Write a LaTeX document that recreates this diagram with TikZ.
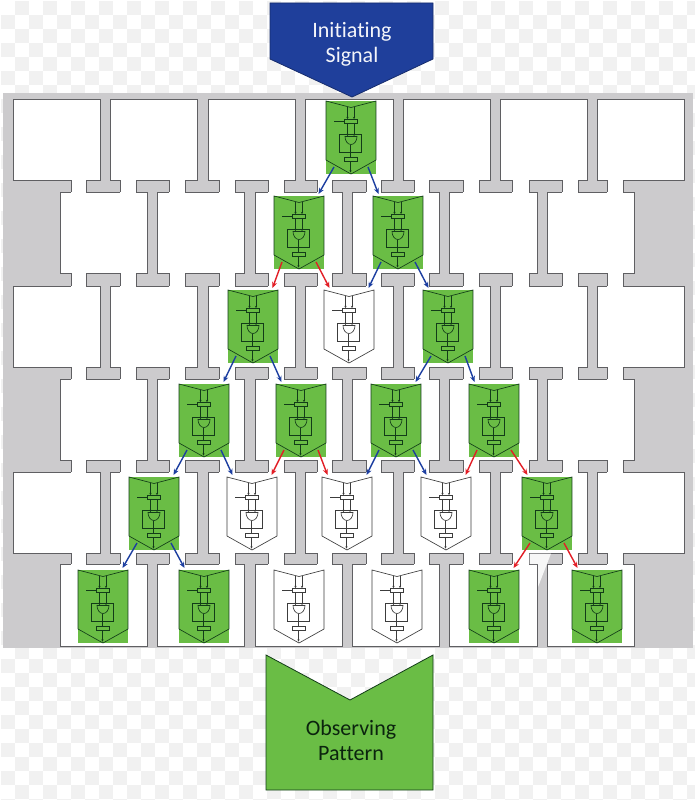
\documentclass[tikz,border=0pt]{standalone}
\usepackage{xcolor}
\usepackage{fontspec}
\setmainfont{Carlito}[Ligatures=NoCommon]
\usetikzlibrary{arrows.meta, positioning, calc}
\definecolor{wallgray}{RGB}{204,203,205}
\definecolor{walledge}{RGB}{95,95,98}
\definecolor{checkgray}{RGB}{241,241,241}
\definecolor{cellgreen}{RGB}{106,189,69}
\definecolor{wiredark}{RGB}{18,60,24}
\definecolor{wiregray}{RGB}{60,60,60}
\definecolor{signalblue}{RGB}{31,63,155}
\definecolor{arrowblue}{RGB}{28,62,160}
\definecolor{arrowred}{RGB}{226,30,38}
\tikzset{
  greencell/.style={rectangle, fill=cellgreen, minimum width=50pt, minimum height=73pt,
    inner sep=0pt, outer sep=0pt, anchor=north},
  whitecell/.style={rectangle, minimum width=50pt, minimum height=73pt,
    inner sep=0pt, outer sep=0pt, anchor=north},
  wire/.style={line width=0.65pt, line join=miter},
  tinyarrow/.style={wire, -{Stealth[length=2pt,width=2pt]}},
  bluearrow/.style={-{Stealth[length=6pt,width=5pt]}, line width=1.4pt, color=arrowblue},
  redarrow/.style={-{Stealth[length=6pt,width=5pt]}, line width=1.4pt, color=arrowred},
  room/.style={fill=white, draw=walledge, line width=0.9pt},
  bigtext/.style={align=center, font=\fontsize{22}{25}\selectfont}
}
% outline and wiring of one cell, measured from the top middle of its node
\newcommand{\cellparts}[2]{
  \begin{scope}[shift={(#1.north)}, color=#2]
    \draw[wire, fill=white, fill opacity=\cellfill] (-25,0) -- (0,6.5) -- (25,0) -- (25,59) -- (0,73) -- (-25,59) -- cycle;
    \draw[tinyarrow] (-3.5,6) -- (-3.5,18);
    \draw[tinyarrow] (3,6) -- (3,18);
    \draw[wire] (-17,20.5) -- (-7,20.5);
    \draw[wire] (-7,18) rectangle (6,22.5);
    \draw[tinyarrow] (-3.5,22.5) -- (-3.5,35);
    \draw[tinyarrow] (3,22.5) -- (3,35);
    \draw[wire] (-11.5,33) rectangle (10.5,51);
    \draw[wire] (-6,35.5) -- (6,35.5) arc[start angle=0, end angle=-180, x radius=6, y radius=-8] -- cycle;
    \draw[wire] (-0.5,43.5) -- (-0.5,56);
    \draw[wire] (-7,56) rectangle (6.5,60);
    \draw[tinyarrow] (-0.5,60) -- (-0.5,71.5);
  \end{scope}
}
\newcommand{\greenunit}[3]{
  \def\cellfill{0}
  \node[greencell] (#1) at (#2,#3) {};
  \cellparts{#1}{wiredark}
}
\newcommand{\whiteunit}[3]{
  \def\cellfill{1}
  \node[whitecell] (#1) at (#2,#3) {};
  \cellparts{#1}{wiregray}
}
% parent cell to its two children below
\newcommand{\linkcells}[4]{
  \draw[#4] ([xshift=-17pt,yshift=7pt]#1.south) -- ([xshift=-5.5pt,yshift=2pt]#2.north east);
  \draw[#4] ([xshift=17pt,yshift=7pt]#1.south) -- ([xshift=5.5pt,yshift=2pt]#3.north west);
}

\begin{document}
\begin{tikzpicture}[x=1pt, y=-1pt]
  \useasboundingbox (0,0) rectangle (695,800);

  % Checker background
  \foreach \i in {0,2,...,48} {
    \foreach \j in {0,2,...,56} {
      \fill[checkgray] ({15+14*\i},{1+14*\j}) rectangle +(14,14);
      \fill[checkgray] ({1+14*\i},{15+14*\j}) rectangle +(14,14);
    }
  }

  % Wall block
  \fill[wallgray] (3,93) rectangle (693,648);

  % Rooms
  \foreach \ytop/\ybot in {99/180, 286/367, 472/553} {
    \foreach \xl/\xr in {13/100, 110/197, 208/295, 305/393, 403/490, 500/587, 597/684} {
      \draw[room] (\xl,\ytop) rectangle (\xr,\ybot);
    }
  }
  \foreach \ytop/\ybot in {192/273, 379/460, 564/646} {
    \foreach \xl/\xr in {60/147, 157/244, 255/342, 352/439, 449/537, 547/634} {
      \draw[room] (\xl,\ytop) rectangle (\xr,\ybot);
    }
  }

  % Gaps in the walls between the rows
  \foreach \ytop/\ybot in {180/192, 273/286, 367/379, 460/472, 553/564} {
    \foreach \xl/\xr in {71/86, 120/136, 169/185, 219/235, 268/284, 317/332, 366/381, 414/429, 463/479, 512/529, 562/578, 607/623} {
      \fill[white] (\xl,\ytop-1) rectangle (\xr,\ybot+1);
      \draw[walledge, line width=0.9pt] (\xl,\ytop) -- (\xl,\ybot) (\xr,\ytop) -- (\xr,\ybot);
    }
  }
  \fill[white, opacity=0.85] (529.5,553.5) -- (551,553.5) -- (538,587) -- (538,564) -- (529.5,564) -- cycle;

  % Cells, row by row
  \greenunit{ra}{351}{101}

  \greenunit{rba}{299}{196}
  \greenunit{rbb}{398}{196}

  \greenunit{rca}{253}{290}
  \whiteunit{rcb}{349}{290}
  \greenunit{rcc}{448}{290}

  \greenunit{rda}{204}{384}
  \greenunit{rdb}{301}{384}
  \greenunit{rdc}{396}{384}
  \greenunit{rdd}{494}{384}

  \greenunit{rea}{154}{477}
  \whiteunit{reb}{252}{477}
  \whiteunit{rec}{347}{477}
  \whiteunit{red}{446}{477}
  \greenunit{ree}{547}{477}

  \greenunit{rfa}{103}{570}
  \greenunit{rfb}{204}{570}
  \whiteunit{rfc}{299}{570}
  \whiteunit{rfd}{397}{570}
  \greenunit{rfe}{494}{570}
  \greenunit{rff}{597}{570}

  % Links between the cells
  \linkcells{ra}{rba}{rbb}{bluearrow}
  \linkcells{rba}{rca}{rcb}{redarrow}
  \linkcells{rbb}{rcb}{rcc}{bluearrow}
  \linkcells{rca}{rda}{rdb}{bluearrow}
  \linkcells{rcc}{rdc}{rdd}{bluearrow}
  \linkcells{rda}{rea}{reb}{bluearrow}
  \linkcells{rdb}{reb}{rec}{redarrow}
  \linkcells{rdc}{rec}{red}{bluearrow}
  \linkcells{rdd}{red}{ree}{redarrow}
  \linkcells{rea}{rfa}{rfb}{bluearrow}
  \linkcells{ree}{rfe}{rff}{redarrow}

  % Signal and pattern blocks
  \draw[fill=signalblue, draw=signalblue!70!black, line width=0.8pt] (270,3) -- (433,3) -- (433,59) -- (352,97) -- (270,59) -- cycle;
  \node[bigtext, text=white!95!signalblue] (signal) at (352,44.5) {Initiating\\Signal};

  \draw[fill=cellgreen, draw=wiredark, line width=0.8pt] (266,655) -- (350,700) -- (433,655) -- (433,790) -- (266,790) -- cycle;
  \node[bigtext, text=wiredark!60!black] (pattern) at (351,740.5) {Observing\\Pattern};
\end{tikzpicture}
\end{document}
